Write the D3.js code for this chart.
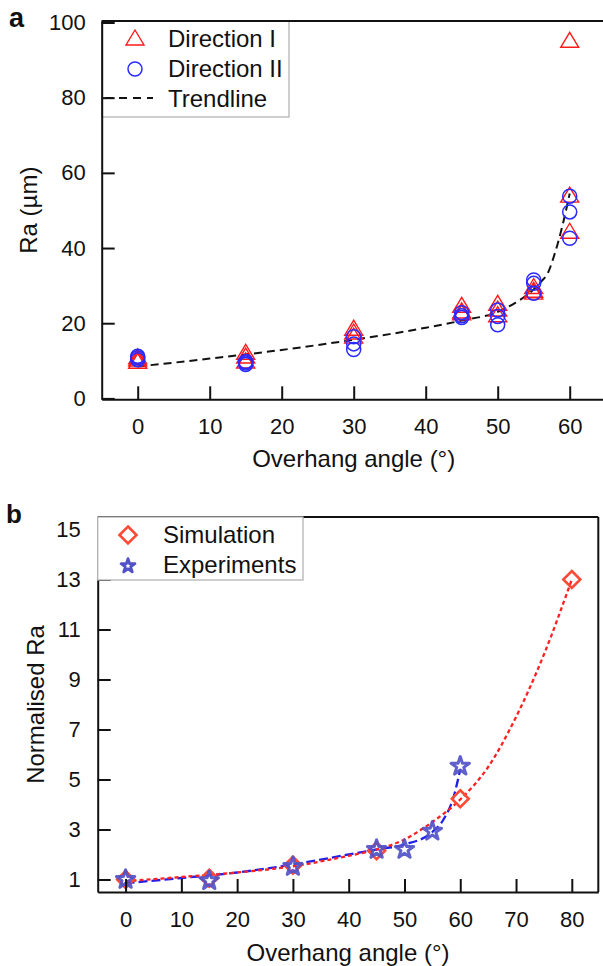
<!DOCTYPE html>
<html>
<head>
<meta charset="utf-8">
<script src="https://cdn.jsdelivr.net/npm/d3@7"></script>
<style>
  html, body { margin: 0; padding: 0; background: #fff; }
  svg { display: block; }
  text { font-family: "Liberation Sans", Arial, sans-serif; fill: #111; }
</style>
</head>
<body>
<svg id="chart" width="603" height="966"></svg>
<script>
// ---------- Panel a data ----------
const aTickX = [0, 10, 20, 30, 40, 50, 60];
const aTickY = [0, 20, 40, 60, 80, 100];
const dirIAngles = [0, 0, 0, 15, 15, 15, 30, 30, 30, 45, 45, 45, 50, 50, 50, 55, 55, 55, 60, 60, 60];
const dirIValues = [9.6, 10.2, 10.8, 9.7, 11.0, 12.0, 16.3, 17.4, 18.4, 22.5, 23.0, 24.5, 22.0, 23.5, 25.0, 28.0, 28.5, 29.5, 44.2, 53.8, 95.0];
const dirIIAngles = [0, 0, 0, 15, 15, 15, 30, 30, 30, 45, 45, 45, 50, 50, 50, 55, 55, 55, 60, 60, 60];
const dirIIValues = [10.3, 10.8, 11.2, 9.0, 9.4, 9.8, 13.0, 14.5, 16.4, 21.5, 22.0, 22.8, 19.6, 21.8, 23.5, 28.0, 30.6, 31.5, 42.6, 49.6, 53.8];
const trendAngles = [0, 5, 10, 15, 20, 25, 30, 35, 40, 45, 50, 52.5, 55, 56, 57, 58, 59, 60];
const trendValues = [8.5, 9.5, 10.6, 11.7, 12.9, 14.2, 15.6, 17.1, 18.8, 20.7, 23.0, 25.5, 29.0, 31.0, 33.5, 39.0, 46.0, 54.5];
const aLegend = ["Direction I", "Direction II", "Trendline"];

// ---------- Panel b data ----------
const bTickX = [0, 10, 20, 30, 40, 50, 60, 70, 80];
const bTickY = [1, 3, 5, 7, 9, 11, 13, 15];
const simAngles = [0, 15, 30, 45, 60, 80];
const simValues = [1.0, 1.05, 1.57, 2.15, 4.23, 13.0];
const expAngles = [0, 15, 30, 45, 50, 55, 60];
const expValues = [1.0, 0.95, 1.52, 2.2, 2.2, 2.93, 5.53];
const simCurveAngles = [0, 10, 20, 30, 40, 45, 50, 55, 60, 65, 70, 75, 80];
const simCurveValues = [0.93, 1.1, 1.28, 1.53, 1.95, 2.2, 2.6, 3.3, 4.2, 5.5, 7.5, 10.0, 13.0];
const expCurveAngles = [0, 10, 20, 30, 40, 45, 50, 55, 57, 58.8, 60];
const expCurveValues = [0.85, 1.06, 1.28, 1.6, 2.0, 2.2, 2.4, 2.9, 3.4, 4.3, 5.4];
const bLegend = ["Simulation", "Experiments"];

const FONT = '"Liberation Sans", Arial, sans-serif';
const svg = d3.select("#chart");

const triPath = (w, h) => `M0,${-h * 0.6}L${w / 2},${h * 0.4}L${-w / 2},${h * 0.4}Z`;
const diaPath = (r) => `M0,${-r}L${r},0L0,${r}L${-r},0Z`;

// ================= Panel a =================
{
  const L = 101.7, R = 605.7, T = 21, B = 399.3;
  const x = d3.scaleLinear().domain([-5, 65]).range([L, R]);
  const y = d3.scaleLinear().domain([-0.24, 100.4]).range([B, T]);
  const g = svg.append("g");

  const lg = g.append("g");
  lg.append("rect").attr("x", L).attr("y", T).attr("width", 289 - L).attr("height", 117 - T)
    .attr("fill", "#fff").attr("stroke", "#b4b4b4").attr("stroke-width", 1.3);
  lg.append("path").attr("d", triPath(18, 15)).attr("transform", "translate(135,39)")
    .attr("fill", "none").attr("stroke", "#ff1a1a").attr("stroke-width", 1.4);
  lg.append("circle").attr("cx", 135).attr("cy", 69).attr("r", 7)
    .attr("fill", "none").attr("stroke", "#2a2aff").attr("stroke-width", 1.5);
  lg.append("line").attr("x1", 105).attr("x2", 153).attr("y1", 98).attr("y2", 98)
    .attr("stroke", "#111").attr("stroke-width", 2).attr("stroke-dasharray", "8,6");
  lg.selectAll("text.leg").data(aLegend).join("text").attr("class", "leg")
    .attr("x", 168).attr("y", (d, i) => 47 + i * 30)
    .attr("font-size", 24).text(d => d);

  const line = d3.line().x(d => x(d[0])).y(d => y(d[1])).curve(d3.curveMonotoneX);
  g.append("path").datum(trendAngles.map((a, i) => [a, trendValues[i]]))
    .attr("d", line).attr("fill", "none").attr("stroke", "#111")
    .attr("stroke-width", 2).attr("stroke-dasharray", "8,5");

  g.selectAll("path.tri").data(dirIAngles.map((a, i) => [a, dirIValues[i]])).join("path")
    .attr("class", "tri").attr("d", triPath(18, 15))
    .attr("transform", d => `translate(${x(d[0])},${y(d[1])})`)
    .attr("fill", "none").attr("stroke", "#ff1a1a").attr("stroke-width", 1.4);
  g.selectAll("circle.cir").data(dirIIAngles.map((a, i) => [a, dirIIValues[i]])).join("circle")
    .attr("class", "cir").attr("cx", d => x(d[0])).attr("cy", d => y(d[1])).attr("r", 7)
    .attr("fill", "none").attr("stroke", "#2a2aff").attr("stroke-width", 1.5);

  const xa = g.append("g").attr("transform", `translate(0,${B})`)
    .call(d3.axisBottom(x).tickValues(aTickX).tickSize(-13).tickSizeOuter(0).tickPadding(19));
  const ya = g.append("g").attr("transform", `translate(${L},0)`)
    .call(d3.axisLeft(y).tickValues(aTickY).tickSize(-13).tickSizeOuter(0).tickPadding(16));
  [xa, ya].forEach(a => {
    a.select(".domain").attr("stroke", "#111").attr("stroke-width", 2);
    a.selectAll(".tick line").attr("stroke", "#111").attr("stroke-width", 2);
    a.selectAll(".tick text").attr("font-size", 22).attr("font-family", FONT).attr("fill", "#111");
  });
  g.append("line").attr("x1", L).attr("x2", R).attr("y1", T).attr("y2", T)
    .attr("stroke", "#111").attr("stroke-width", 2);

  g.append("text").attr("x", (L + R) / 2).attr("y", 467).attr("text-anchor", "middle")
    .attr("font-size", 24).text("Overhang angle (°)");
  g.append("text").attr("transform", `translate(37,${(T + B) / 2}) rotate(-90)`)
    .attr("text-anchor", "middle").attr("font-size", 24).text("Ra (µm)");
  g.append("text").attr("x", 9).attr("y", 27).attr("font-size", 27).attr("font-weight", "bold").text("a");
}

// ================= Panel b =================
{
  const L = 97.7, R = 598.3, T = 517, B = 892;
  const x = d3.scaleLinear().domain([-5, 84.75]).range([L, R]);
  const y = d3.scaleLinear().domain([0.5, 15.5]).range([B, T]);
  const g = svg.append("g");

  const line = d3.line().x(d => x(d[0])).y(d => y(d[1])).curve(d3.curveMonotoneX);
  g.append("path").datum(expCurveAngles.map((a, i) => [a, expCurveValues[i]]))
    .attr("d", line).attr("fill", "none").attr("stroke", "#1f1fee")
    .attr("stroke-width", 2.3).attr("stroke-dasharray", "9,4");
  g.append("path").datum(simCurveAngles.map((a, i) => [a, simCurveValues[i]]))
    .attr("d", line).attr("fill", "none").attr("stroke", "#ff2020")
    .attr("stroke-width", 2.3).attr("stroke-dasharray", "4,3");

  const star = d3.symbol().type(d3.symbolStar).size(105);
  g.selectAll("path.dia").data(simAngles.map((a, i) => [a, simValues[i]])).join("path")
    .attr("class", "dia").attr("d", diaPath(8.5))
    .attr("transform", d => `translate(${x(d[0])},${y(d[1])})`)
    .attr("fill", "none").attr("stroke", "#ff4a36").attr("stroke-width", 2.6);
  g.selectAll("path.star").data(expAngles.map((a, i) => [a, expValues[i]])).join("path")
    .attr("class", "star").attr("d", star)
    .attr("transform", d => `translate(${x(d[0])},${y(d[1])})`)
    .attr("fill", "none").attr("stroke", "#5252c8").attr("stroke-width", 3)
    .attr("stroke-linejoin", "round").attr("opacity", 0.92);

  const xa = g.append("g").attr("transform", `translate(0,${B})`)
    .call(d3.axisBottom(x).tickValues(bTickX).tickSize(-13).tickSizeOuter(0).tickPadding(19));
  const ya = g.append("g").attr("transform", `translate(${L},0)`)
    .call(d3.axisLeft(y).tickValues(bTickY).tickSize(-13).tickSizeOuter(0).tickPadding(17));
  [xa, ya].forEach(a => {
    a.select(".domain").attr("stroke", "#111").attr("stroke-width", 2);
    a.selectAll(".tick line").attr("stroke", "#111").attr("stroke-width", 2);
    a.selectAll(".tick text").attr("font-size", 22).attr("font-family", FONT).attr("fill", "#111");
  });
  g.append("line").attr("x1", L).attr("x2", R).attr("y1", T).attr("y2", T)
    .attr("stroke", "#111").attr("stroke-width", 2);
  g.append("line").attr("x1", R).attr("x2", R).attr("y1", T).attr("y2", B)
    .attr("stroke", "#111").attr("stroke-width", 2);

  const lg = g.append("g");
  lg.append("rect").attr("x", L).attr("y", T).attr("width", 303 - L).attr("height", 580 - T)
    .attr("fill", "#fff").attr("stroke", "#b4b4b4").attr("stroke-width", 1.3);
  lg.append("path").attr("d", diaPath(8.5)).attr("transform", "translate(128,535)")
    .attr("fill", "none").attr("stroke", "#ff4a36").attr("stroke-width", 2.6);
  lg.append("path").attr("d", d3.symbol().type(d3.symbolStar).size(60)).attr("transform", "translate(128,566)")
    .attr("fill", "none").attr("stroke", "#5252c8").attr("stroke-width", 2.8).attr("stroke-linejoin", "round");
  lg.selectAll("text.leg").data(bLegend).join("text").attr("class", "leg")
    .attr("x", 163).attr("y", (d, i) => 543 + i * 30)
    .attr("font-size", 24).text(d => d);

  g.append("text").attr("x", (L + R) / 2).attr("y", 961).attr("text-anchor", "middle")
    .attr("font-size", 24).text("Overhang angle (°)");
  g.append("text").attr("transform", `translate(44,${(T + B) / 2}) rotate(-90)`)
    .attr("text-anchor", "middle").attr("font-size", 24).text("Normalised Ra");
  g.append("text").attr("x", 6).attr("y", 523).attr("font-size", 26).attr("font-weight", "bold").text("b");
}
</script>
</body>
</html>
